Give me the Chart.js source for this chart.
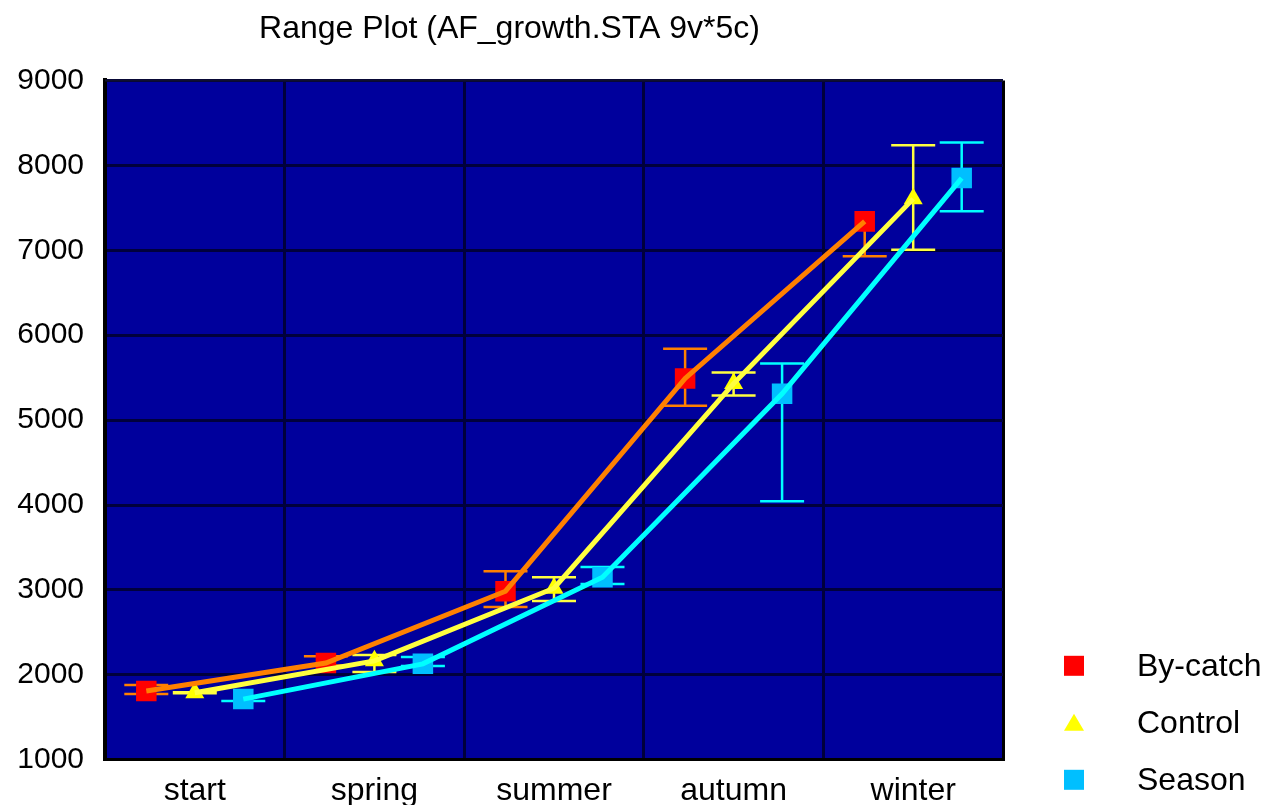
<!DOCTYPE html>
<html>
<head>
<meta charset="utf-8">
<title>Range Plot</title>
<script src="https://cdn.jsdelivr.net/npm/chart.js@4.4.1/dist/chart.umd.min.js"></script>
<style>
  html, body { margin: 0; padding: 0; background: #ffffff; }
  #wrap { width: 1279px; height: 805px; position: relative; }
</style>
</head>
<body>
<div id="wrap"><canvas id="rangeChart"></canvas></div>
<script>
// Seasons on the x axis
const seasons = ['start', 'spring', 'summer', 'autumn', 'winter'];

// Group means with lower / upper range ends (null = no cap drawn)
const byCatchMean = [1810, 2140, 2985, 5490, 7340];
const byCatchLow  = [1775, 2110, 2800, 5170, 6930];
const byCatchHigh = [1880, 2220, 3220, 5840, null];

const controlMean = [1790, 2165, 3020, 5430, 7605];
const controlLow  = [1785, 2035, 2870, 5290, 7005];
const controlHigh = [1795, 2235, 3150, 5560, 8235];

const seasonMean = [1715, 2130, 3150, 5310, 7850];
const seasonLow  = [1693, 2105, 3070, 4045, 7460];
const seasonHigh = [null, 2210, 3270, 5665, 8270];

// y axis range
const yMin = 1000;
const yMax = 9000;
const yStep = 1000;

const FONT = "Arial, 'Liberation Sans', Helvetica, sans-serif";
const plotBg = '#00009c';
const gridCol = '#00003c';

const groups = [
    { name: 'By-catch', mean: byCatchMean, low: byCatchLow, high: byCatchHigh, shift: -0.27,
      marker: '#ff0000', line: '#ff8000', style: 'rect', radius: 14.5 },
    { name: 'Control', mean: controlMean, low: controlLow, high: controlHigh, shift: 0,
      marker: '#ffff00', line: '#ffff40', style: 'triangle', radius: 11 },
    { name: 'Season', mean: seasonMean, low: seasonLow, high: seasonHigh, shift: 0.27,
      marker: '#00bfff', line: '#00ffff', style: 'rect', radius: 14.5 }
];

function toPoints(g) {
    return g.mean.map((v, i) => ({ x: i + g.shift, y: v }));
}

const datasets = [];
// marker datasets (drawn under the lines)
groups.forEach((g, k) => {
    datasets.push({
        label: g.name,
        data: toPoints(g),
        showLine: false,
        pointStyle: g.style,
        pointRadius: g.radius,
        pointHoverRadius: g.radius,
        pointBackgroundColor: g.marker,
        pointBorderWidth: 0,
        order: 5 - k,
        isMarker: true,
        group: g
    });
});
// connecting lines, cyan on top
groups.forEach((g, k) => {
    datasets.push({
        label: g.name + ' line',
        data: toPoints(g),
        showLine: true,
        borderColor: g.line,
        borderWidth: 5,
        pointRadius: 0,
        pointHoverRadius: 0,
        tension: 0,
        order: 2 - k
    });
});

// blue plot background
const plotBackground = {
    id: 'plotBackground',
    beforeDraw(chart) {
        const { ctx, chartArea: a } = chart;
        ctx.save();
        ctx.fillStyle = plotBg;
        ctx.fillRect(a.left, a.top, a.right - a.left, a.bottom - a.top);
        ctx.restore();
    }
};

// range bars: vertical line + caps, drawn below markers
const rangeBars = {
    id: 'rangeBars',
    beforeDatasetsDraw(chart) {
        const { ctx, scales } = chart;
        ctx.save();
        ctx.lineWidth = 2.5;
        chart.data.datasets.forEach((ds) => {
            if (!ds.isMarker) return;
            const g = ds.group;
            ctx.strokeStyle = g.line;
            g.mean.forEach((m, i) => {
                const x = scales.x.getPixelForValue(i + g.shift);
                const lo = g.low[i] == null ? m : g.low[i];
                const hi = g.high[i] == null ? m : g.high[i];
                const yLo = scales.y.getPixelForValue(lo);
                const yHi = scales.y.getPixelForValue(hi);
                ctx.beginPath();
                ctx.moveTo(x, yLo);
                ctx.lineTo(x, yHi);
                if (g.low[i] != null) { ctx.moveTo(x - 22, yLo); ctx.lineTo(x + 22, yLo); }
                if (g.high[i] != null) { ctx.moveTo(x - 22, yHi); ctx.lineTo(x + 22, yHi); }
                ctx.stroke();
            });
        });
        ctx.restore();
    }
};

// top frame line and the legend at lower right
const frameAndLegend = {
    id: 'frameAndLegend',
    afterDraw(chart) {
        const { ctx, chartArea: a } = chart;
        ctx.save();
        ctx.strokeStyle = '#101030';
        ctx.lineWidth = 2;
        ctx.beginPath();
        ctx.moveTo(a.left, a.top);
        ctx.lineTo(a.right, a.top);
        ctx.stroke();

        ctx.font = '32px ' + FONT;
        ctx.textBaseline = 'middle';
        ctx.textAlign = 'left';
        groups.forEach((g, k) => {
            const cy = a.bottom - 94 + k * 57;
            const cx = a.right + 71;
            ctx.fillStyle = g.marker;
            if (g.style === 'rect') {
                ctx.fillRect(cx - 10, cy - 10, 20, 20);
            } else {
                ctx.beginPath();
                ctx.moveTo(cx, cy - 9);
                ctx.lineTo(cx + 10, cy + 8);
                ctx.lineTo(cx - 10, cy + 8);
                ctx.closePath();
                ctx.fill();
            }
            ctx.fillStyle = '#000000';
            ctx.fillText(g.name, a.right + 134, cy + 1);
        });
        ctx.restore();
    }
};

new Chart(document.getElementById('rangeChart'), {
    type: 'scatter',
    data: { datasets: datasets },
    options: {
        responsive: true,
        maintainAspectRatio: false,
        animation: false,
        layout: { padding: { left: 16, right: 276, top: 0, bottom: -18 } },
        plugins: {
            legend: { display: false },
            tooltip: { enabled: false },
            title: {
                display: true,
                text: 'Range Plot (AF_growth.STA 9v*5c)',
                color: '#000000',
                font: { family: FONT, size: 32, weight: 'normal', lineHeight: 1.2 },
                padding: { top: 10, bottom: 32 }
            }
        },
        scales: {
            x: {
                type: 'linear',
                min: -0.5,
                max: 4.5,
                ticks: {
                    stepSize: 0.5,
                    autoSkip: false,
                    maxRotation: 0,
                    padding: 14,
                    color: '#000000',
                    font: { family: FONT, size: 32, lineHeight: 1.1 },
                    callback: (v) => Number.isInteger(v) ? seasons[v] : ''
                },
                grid: {
                    drawTicks: false,
                    lineWidth: 3,
                    color: (c) => {
                        const v = c.tick ? c.tick.value : 0;
                        if (v === 4.5) return '#000000';
                        return Number.isInteger(v) ? 'rgba(0,0,0,0)' : gridCol;
                    }
                },
                border: { color: '#000000', width: 3 }
            },
            y: {
                min: yMin,
                max: yMax,
                afterFit: (scale) => { scale.width = 89; },
                ticks: {
                    stepSize: yStep,
                    padding: 21,
                    color: '#000000',
                    font: { family: FONT, size: 30 },
                    callback: (v) => String(v)
                },
                grid: { drawTicks: false, lineWidth: 3, color: gridCol },
                border: { color: '#000000', width: 4 }
            }
        }
    },
    plugins: [plotBackground, rangeBars, frameAndLegend]
});
</script>
</body>
</html>
